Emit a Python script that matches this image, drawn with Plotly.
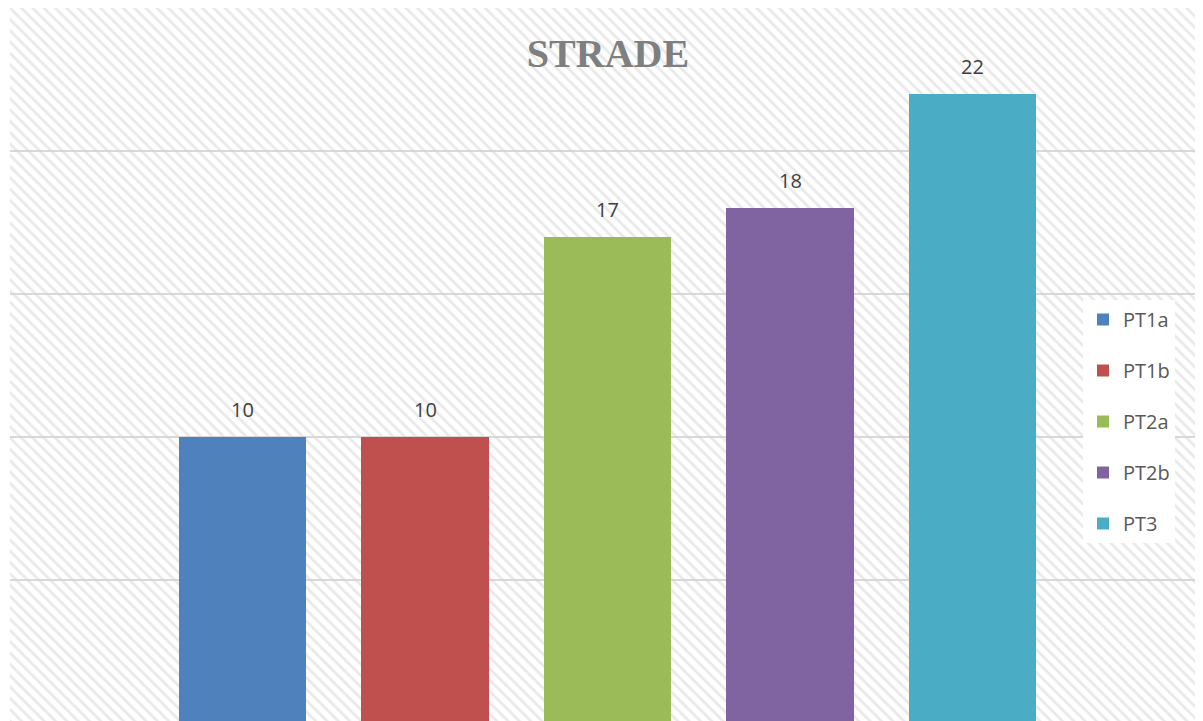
import plotly.graph_objects as go

# Data
series_names = ["PT1a", "PT1b", "PT2a", "PT2b", "PT3"]
values = [10, 10, 17, 18, 22]
colors = ["#4F81BD", "#C0504D", "#9BBB59", "#8064A2", "#4BACC6"]
title_text = "STRADE"

x_range = [-1.274, 5.263]
y_range = [0.07, 25]
y_top = 25

fig = go.Figure()

# hatched background of the plot area (drawn first, below the bars)
fig.add_trace(go.Bar(
    x=[(x_range[0] + x_range[1]) / 2], y=[y_top], base=0,
    width=x_range[1] - x_range[0],
    marker=dict(color="rgba(0,0,0,0)", line=dict(width=0),
                pattern=dict(shape="\\", fgcolor="#d4d4d4", bgcolor="rgba(0,0,0,0)",
                             size=8, solidity=0.35, fillmode="overlay")),
    hoverinfo="skip", showlegend=False,
))

for i, (name, v, c) in enumerate(zip(series_names, values, colors)):
    fig.add_trace(go.Bar(
        x=[i], y=[v], name=name, width=0.696,
        marker=dict(color=c, line=dict(width=0)),
        legendgroup=name,
    ))
    fig.add_annotation(
        x=i, y=v, text=str(v), showarrow=False,
        yanchor="bottom", yshift=12,
        font=dict(family="Open Sans", size=20, color="#404040"),
    )

fig.update_layout(
    width=1195, height=713,
    margin=dict(l=2, r=0, t=0, b=0),
    paper_bgcolor="white",
    plot_bgcolor="white",
    title=dict(text="<b>" + title_text + "</b>", x=(600) / 1195, xanchor="center",
               y=1 - 45 / 713, yanchor="middle",
               font=dict(family="Liberation Serif", size=40, color="#7F7F7F")),
    xaxis=dict(range=x_range, showgrid=False, showticklabels=False, zeroline=False,
               showline=False, ticks=""),
    yaxis=dict(range=y_range, dtick=5, showgrid=True, gridcolor="#D9D9D9", gridwidth=2,
               showticklabels=False, zeroline=False, showline=False, ticks=""),
    showlegend=True,
    legend=dict(x=(1083 - 10) / 1193, y=1 - 292 / 713, xanchor="left", yanchor="top",
                bgcolor="white", borderwidth=0,
                font=dict(family="Open Sans", size=20, color="#595959"),
                tracegroupgap=22, itemwidth=30),
    bargap=0, barmode="overlay",
)

fig.write_html("out.html")
